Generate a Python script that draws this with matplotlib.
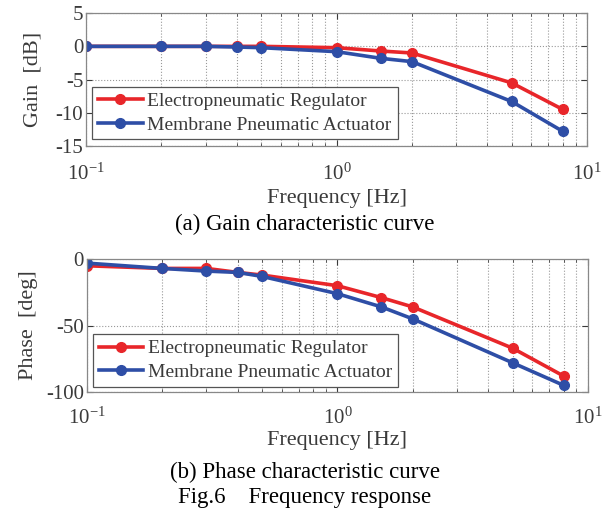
import matplotlib
matplotlib.use("Agg")
import matplotlib.pyplot as plt
from matplotlib.ticker import LogLocator, NullFormatter

# frequency response data
freq = [0.1, 0.2, 0.3, 0.4, 0.5, 1.0, 1.5, 2.0, 5.0, 8.0]
gain_regulator = [0.0, 0.0, 0.0, 0.0, 0.0, -0.2, -0.7, -1.0, -5.5, -9.5]
gain_actuator = [0.0, 0.0, 0.0, -0.1, -0.2, -0.8, -1.8, -2.3, -8.3, -12.8]
phase_regulator = [-5, -7, -7, -10, -12, -20, -29, -36, -67, -88]
phase_actuator = [-3, -7, -9, -10, -13, -26, -36, -45, -78, -95]
labels = ["Electropneumatic Regulator", "Membrane Pneumatic Actuator"]

plt.rcParams["font.family"] = "Liberation Serif"
plt.rcParams["mathtext.fontset"] = "custom"
plt.rcParams["mathtext.rm"] = "Liberation Serif"
plt.rcParams["mathtext.it"] = "Liberation Serif:italic"
plt.rcParams["axes.unicode_minus"] = False

red = "#e8262a"
blue = "#2e4ea6"
grey = "#3a3a3a"

fig = plt.figure(figsize=(6.03, 5.17), dpi=100)
ax1 = fig.add_axes([0.1426, 0.7176, 0.831, 0.257])
ax2 = fig.add_axes([0.144, 0.2418, 0.831, 0.257])


def style(ax, ylim, yticks, ylabel, xpad, ylpad, xlpad):
    ax.set_xscale("log")
    ax.set_xlim(0.1, 10)
    ax.set_ylim(*ylim)
    ax.set_yticks(yticks)
    ax.xaxis.set_minor_locator(LogLocator(base=10, subs=range(2, 10)))
    ax.xaxis.set_minor_formatter(NullFormatter())
    ax.grid(True, which="major", color="#999999", linestyle=":", linewidth=0.8)
    ax.grid(True, which="minor", axis="x", color="#999999", linestyle=":", linewidth=0.8)
    ax.tick_params(which="both", direction="in", top=True, right=True, colors=grey)
    ax.tick_params(axis="y", labelsize=15, pad=2)
    ax.tick_params(axis="x", labelsize=15, pad=xpad)
    ax.tick_params(which="minor", length=2.5)
    ax.tick_params(which="major", length=4)
    for s in ax.spines.values():
        s.set_color("#888888")
        s.set_linewidth(0.9)
    ax.set_ylabel(ylabel, fontsize=16, color=grey, labelpad=ylpad)
    ax.set_xlabel("Frequency [Hz]", fontsize=16, color=grey, labelpad=xlpad)


for ax, yr, yb, anchor in [(ax1, gain_regulator, gain_actuator, (0.012, 0.05)),
                           (ax2, phase_regulator, phase_actuator, (0.012, 0.04))]:
    ax.plot(freq, yr, color=red, linewidth=2.6, marker="o", markersize=7, label=labels[0])
    ax.plot(freq, yb, color=blue, linewidth=2.6, marker="o", markersize=7, label=labels[1])
    leg = ax.legend(loc="lower left", fontsize=14, fancybox=False, edgecolor="#555555",
                    framealpha=1, borderpad=0.3, handlelength=2.3, handletextpad=0.25,
                    labelspacing=0.3, bbox_to_anchor=anchor, borderaxespad=0)
    leg.get_frame().set_linewidth(0.9)
    for t in leg.get_texts():
        t.set_color(grey)

style(ax1, (-15, 5), [-15, -10, -5, 0, 5], "Gain  [dB]", 13, 9, 3)
style(ax2, (-100, 0), [-100, -50, 0], "Phase  [deg]", 11, 6, 2)

fig.text(0.5055, 0.565, "(a) Gain characteristic curve", ha="center", va="center", fontsize=16.5)
fig.text(0.5055, 0.087, "(b) Phase characteristic curve", ha="center", va="center", fontsize=16.5)
fig.text(0.5055, 0.038, "Fig.6    Frequency response", ha="center", va="center", fontsize=16.5)

fig.savefig("out.png", dpi=100, facecolor="white")
